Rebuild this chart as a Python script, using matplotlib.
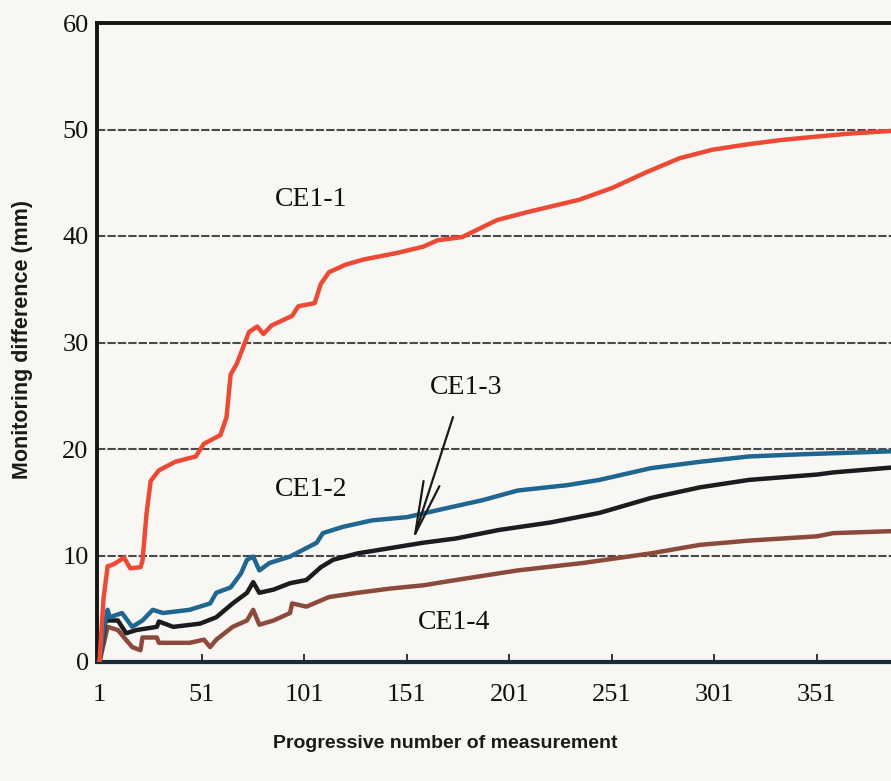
import matplotlib
matplotlib.use("Agg")
import matplotlib.pyplot as plt

# ---- data (measurement number, monitoring difference in mm) ----
ce11_x = [1, 3, 5, 7, 9, 13, 16, 21, 22, 24, 26, 30, 38, 48, 52, 60, 63, 65, 68, 71,
          74, 78, 81, 85, 95, 98, 106, 109, 113, 121, 130, 146, 159, 166, 178, 195, 211,
          235, 251, 268, 284, 300, 317, 333, 349, 366, 390]
ce11_y = [0, 6, 9, 9.1, 9.3, 9.8, 8.8, 8.9, 9.5, 14, 17, 18, 18.8, 19.3, 20.5, 21.3, 23,
          27, 28, 29.5, 31, 31.5, 30.8, 31.6, 32.5, 33.4, 33.7, 35.5, 36.6, 37.3, 37.8,
          38.4, 39, 39.6, 39.9, 41.5, 42.3, 43.4, 44.5, 46.0, 47.3, 48.1, 48.6, 49.0,
          49.3, 49.6, 49.9]

ce12_x = [1, 3, 5, 6, 12, 17, 22, 27, 32, 45, 55, 58, 65, 70, 73, 76, 79, 84, 94, 100,
          107, 110, 120, 134, 151, 167, 188, 205, 229, 245, 270, 294, 318, 343, 359, 390]
ce12_y = [0, 3, 4.9, 4.2, 4.6, 3.3, 3.9, 4.9, 4.6, 4.9, 5.5, 6.5, 7.0, 8.3, 9.6, 9.9,
          8.6, 9.3, 9.9, 10.5, 11.2, 12.1, 12.7, 13.3, 13.6, 14.3, 15.2, 16.1, 16.6,
          17.1, 18.2, 18.8, 19.3, 19.5, 19.6, 19.8]

ce13_x = [1, 4, 10, 14, 19, 29, 30, 37, 50, 58, 66, 73, 76, 79, 86, 94, 102, 109, 115,
          127, 143, 159, 175, 196, 221, 245, 270, 294, 318, 351, 359, 390]
ce13_y = [0, 3.9, 3.9, 2.7, 3.0, 3.3, 3.8, 3.3, 3.6, 4.2, 5.5, 6.5, 7.5, 6.5, 6.8, 7.4,
          7.7, 8.9, 9.6, 10.2, 10.7, 11.2, 11.6, 12.4, 13.1, 14.0, 15.4, 16.4, 17.1,
          17.6, 17.8, 18.3]

ce14_x = [1, 5, 10, 13, 17, 21, 22, 29, 30, 45, 52, 55, 58, 66, 73, 76, 79, 86, 94, 95,
          102, 113, 127, 143, 159, 175, 205, 237, 270, 294, 318, 351, 359, 390]
ce14_y = [0, 3.3, 3.0, 2.3, 1.4, 1.1, 2.3, 2.3, 1.8, 1.8, 2.1, 1.4, 2.1, 3.3, 3.9, 4.9,
          3.5, 3.9, 4.6, 5.5, 5.2, 6.1, 6.5, 6.9, 7.2, 7.7, 8.6, 9.3, 10.2, 11.0, 11.4,
          11.8, 12.1, 12.3]

x_ticks = [1, 51, 101, 151, 201, 251, 301, 351]
y_ticks = [0, 10, 20, 30, 40, 50, 60]

series_names = ["CE1-1", "CE1-2", "CE1-3", "CE1-4"]

# ---- figure ----
bg = "#f8f7f3"
fig = plt.figure(figsize=(8.91, 7.81), dpi=100, facecolor=bg)
ax = fig.add_axes([97 / 891, 119 / 781, 794 / 891, 639 / 781])
ax.set_facecolor(bg)

ax.plot(ce14_x, ce14_y, color="#8c4a3c", lw=3.2, solid_joinstyle="round", zorder=3)
ax.plot(ce13_x, ce13_y, color="#1c1c1e", lw=3.2, solid_joinstyle="round", zorder=3)
ax.plot(ce12_x, ce12_y, color="#1f6690", lw=3.2, solid_joinstyle="round", zorder=3)
ax.plot(ce11_x, ce11_y, color="#ec4a35", lw=3.2, solid_joinstyle="round", zorder=4)

ax.set_xlim(-0.2, 387.2)
ax.set_ylim(0, 60)

ax.set_yticks(y_ticks)
ax.set_xticks(x_ticks)
serif = "Liberation Serif"
ax.set_yticklabels([str(v) for v in y_ticks], fontfamily=serif, fontsize=19)
ax.set_xticklabels([str(v) for v in x_ticks], fontfamily=serif, fontsize=19)
ax.tick_params(axis="y", length=0, pad=6, colors="#111111")
ax.tick_params(axis="x", direction="in", length=6, width=1.2, pad=16, colors="#111111")

ax.yaxis.grid(True, color="#4a4a4a", lw=1.5, ls=(0, (4, 1)))
ax.set_axisbelow(True)

for side in ("left", "top"):
    ax.spines[side].set_linewidth(2.8)
    ax.spines[side].set_color("#151515")
ax.spines["bottom"].set_linewidth(3)
ax.spines["bottom"].set_color("#1b2a38")
ax.spines["right"].set_visible(False)

ax.set_ylabel("Monitoring difference (mm)", fontfamily="Liberation Sans",
              fontweight="bold", fontsize=15.5, color="#1a1a1a")
ax.yaxis.set_label_coords(-0.081, 0.505)
ax.set_xlabel("Progressive number of measurement", fontfamily="Liberation Sans",
              fontweight="bold", fontsize=14, color="#1a1a1a")
ax.xaxis.set_label_coords((445 - 97) / 794, -0.115)

lbl = dict(fontfamily=serif, fontsize=20, color="#111111", ha="center", va="center")
ax.text(104.5, 43.4, series_names[0], **lbl)
ax.text(104.5, 16.2, series_names[1], **lbl)
ax.text(180, 25.8, series_names[2], **lbl)
ax.text(174, 3.7, series_names[3], **lbl)

ax.annotate("", xy=(154, 11.4), xytext=(173.5, 23.0),
            arrowprops=dict(arrowstyle="->,head_length=3.8,head_width=0.6",
                            lw=1.6, color="#1a1a1a", shrinkA=0, shrinkB=0))

fig.savefig("out.png", dpi=100, facecolor=bg)
